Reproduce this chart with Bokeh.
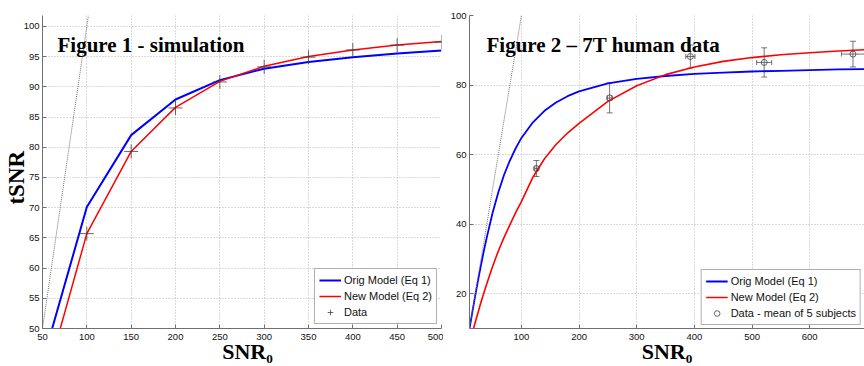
from math import pi
from bokeh.plotting import figure
from bokeh.layouts import row
from bokeh.models import (Label, Legend, LegendItem, Slope, Whisker, ColumnDataSource,
                          FixedTicker, TeeHead, Range1d)
from bokeh.embed import file_html
from bokeh.resources import INLINE

# ---------------- Figure 1 (simulation) ----------------
sim_snr0 = [50, 100, 150, 200, 250, 300, 350, 400, 450, 500]
sim_orig = [44.4, 70.1, 82.0, 87.9, 91.1, 93.0, 94.1, 94.9, 95.5, 96.0]
sim_new = [39.5, 65.7, 79.3, 86.6, 90.9, 93.4, 95.0, 96.1, 96.9, 97.5]
sim_data_snr0 = [100, 150, 200, 250, 300, 350, 400, 450, 500]
sim_data = [65.7, 79.3, 86.5, 90.8, 93.3, 94.9, 96.1, 96.9, 97.4]

# ---------------- Figure 2 (7T human data) ----------------
hum_orig_snr0 = [10, 15, 20, 25, 30, 35, 40, 50, 60, 70, 80, 90, 100, 120, 140, 160, 180, 200,
                 250, 300, 350, 400, 450, 500, 550, 600, 650, 700]
hum_orig = [10.0, 14.8, 19.5, 24.0, 28.3, 32.4, 36.2, 43.2, 49.2, 54.2, 58.3, 61.8, 64.8,
            69.3, 72.6, 75.0, 76.8, 78.2, 80.5, 81.8, 82.6, 83.2, 83.6, 83.9, 84.1, 84.3,
            84.5, 84.6]
hum_new_snr0 = [17, 20, 30, 40, 50, 60, 70, 80, 90, 100, 120, 140, 160, 180, 200, 250, 300,
                350, 400, 450, 500, 550, 600, 650, 700]
hum_new = [10.0, 11.8, 17.6, 22.9, 27.8, 32.3, 36.2, 39.8, 43.3, 46.5, 53.5, 58.8, 62.9,
           66.2, 69.0, 75.3, 79.8, 83.0, 85.2, 86.8, 87.9, 88.7, 89.3, 89.8, 90.2]
hum_data_snr0 = [126, 253, 393, 521, 675]
hum_data = [56.0, 76.3, 88.2, 86.5, 88.9]
hum_err_y = [2.3, 4.3, 3.3, 4.2, 3.7]
hum_err_x = [3, 4, 8, 13, 20]

SERIF = "Liberation Serif"
SANS = "Liberation Sans"


def style(p, xticks, yticks):
    p.outline_line_color = None
    p.background_fill_color = "white"
    p.border_fill_color = "white"
    for ax in (p.xaxis[0], p.yaxis[0]):
        ax.axis_line_color = "#707070"
        ax.major_tick_line_color = "#707070"
        ax.major_tick_in = 4
        ax.major_tick_out = 0
        ax.minor_tick_line_color = None
        ax.major_label_text_font = SANS
        ax.major_label_text_font_size = "9.5px"
        ax.major_label_text_color = "#111111"
        ax.axis_label_text_font = SERIF
        ax.axis_label_text_font_style = "bold"
        ax.axis_label_text_color = "black"
    p.xaxis[0].ticker = FixedTicker(ticks=xticks)
    p.yaxis[0].ticker = FixedTicker(ticks=yticks)
    p.xaxis[0].major_label_standoff = 5
    p.yaxis[0].major_label_standoff = 3
    for g in (p.xgrid[0], p.ygrid[0]):
        g.grid_line_color = "#b4b4b4"
        g.grid_line_dash = "1 2"
        g.grid_line_width = 1


def make_legend(items, margin):
    lg = Legend(items=items, location="bottom_right")
    lg.border_line_color = "#606060"
    lg.border_line_width = 1
    lg.background_fill_color = "white"
    lg.background_fill_alpha = 1
    lg.label_text_font = SANS
    lg.label_text_font_size = "11px"
    lg.label_text_color = "#111111"
    lg.glyph_width = 22
    lg.glyph_height = 14
    lg.label_height = 14
    lg.label_standoff = 3
    lg.spacing = 2
    lg.padding = 4
    lg.margin = margin
    return lg


# ---------- panel 1 ----------
p1 = figure(width=443, height=366, title=None, toolbar_location=None, output_backend="svg",
            x_range=Range1d(50, 500), y_range=Range1d(50, 101.8),
            min_border_left=39, min_border_right=2, min_border_top=13, min_border_bottom=37)
style(p1, list(range(50, 501, 50)), list(range(50, 101, 5)))
p1.yaxis[0].axis_label = "tSNR\u00a0\u00a0"
p1.yaxis[0].axis_label_text_font_size = "23px"
p1.yaxis[0].axis_label_standoff = -8
p1.xaxis[0].axis_label = "\u00a0\u00a0SNR\u2080"
p1.xaxis[0].axis_label_text_font_size = "22px"
p1.xaxis[0].axis_label_standoff = -4

p1.add_layout(Slope(gradient=1, y_intercept=0, line_color="#707070", line_width=1, line_dash="1 1"))
r1b = p1.line(sim_snr0, sim_orig, line_color="#0000ff", line_width=2)
r1r = p1.line(sim_snr0, sim_new, line_color="#ff0000", line_width=1.5)
r1d = p1.scatter(sim_data_snr0, sim_data, marker="cross", size=14, line_color="#404040", line_width=0.8)
p1.add_layout(make_legend([LegendItem(label="Orig Model (Eq 1)", renderers=[r1b]),
                           LegendItem(label="New Model (Eq 2)", renderers=[r1r]),
                           LegendItem(label="Data", renderers=[r1d])], 4))
p1.add_layout(Label(x=15, y=284, x_units="screen", y_units="screen", text="Figure 1 - simulation",
                    text_font=SERIF, text_font_style="bold", text_font_size="21px",
                    text_color="black", text_baseline="alphabetic"))

# ---------- panel 2 ----------
p2 = figure(width=421, height=366, title=None, toolbar_location=None, output_backend="svg",
            x_range=Range1d(10, 695), y_range=Range1d(10, 100),
            min_border_left=26, min_border_right=0, min_border_top=15, min_border_bottom=37)
style(p2, list(range(100, 701, 100)), list(range(20, 101, 20)))
p2.xaxis[0].axis_label = "SNR\u2080"
p2.xaxis[0].axis_label_text_font_size = "22px"
p2.xaxis[0].axis_label_standoff = -4

p2.add_layout(Slope(gradient=1, y_intercept=0, line_color="#707070", line_width=1, line_dash="1 1"))
r2b = p2.line(hum_orig_snr0, hum_orig, line_color="#0000ff", line_width=1.8)
r2r = p2.line(hum_new_snr0, hum_new, line_color="#ff0000", line_width=1.6)

src = ColumnDataSource(dict(
    x=hum_data_snr0, y=hum_data,
    ylo=[v - e for v, e in zip(hum_data, hum_err_y)],
    yhi=[v + e for v, e in zip(hum_data, hum_err_y)],
    xlo=[v - e for v, e in zip(hum_data_snr0, hum_err_x)],
    xhi=[v + e for v, e in zip(hum_data_snr0, hum_err_x)],
))
ec = "#505050"
p2.add_layout(Whisker(source=src, base="x", lower="ylo", upper="yhi", dimension="height",
                      line_color=ec, line_width=0.8,
                      upper_head=TeeHead(size=6, line_color=ec, line_width=0.8),
                      lower_head=TeeHead(size=6, line_color=ec, line_width=0.8)))
p2.add_layout(Whisker(source=src, base="y", lower="xlo", upper="xhi", dimension="width",
                      line_color=ec, line_width=0.8,
                      upper_head=TeeHead(size=5, line_color=ec, line_width=0.8),
                      lower_head=TeeHead(size=5, line_color=ec, line_width=0.8)))
r2d = p2.scatter("x", "y", source=src, marker="circle", size=6, fill_color=None,
                 line_color="#404040", line_width=0.8)

p2.add_layout(make_legend([LegendItem(label="Orig Model (Eq 1)", renderers=[r2b]),
                           LegendItem(label="New Model (Eq 2)", renderers=[r2r]),
                           LegendItem(label="Data - mean of 5 subjects", renderers=[r2d])], 3))
p2.add_layout(Label(x=17, y=284, x_units="screen", y_units="screen", text="Figure 2 \u2013 7T human data",
                    text_font=SERIF, text_font_style="bold", text_font_size="21px",
                    text_color="black", text_baseline="alphabetic"))

layout = row(p1, p2, spacing=0)
open("out.html", "w").write(file_html(layout, INLINE))
